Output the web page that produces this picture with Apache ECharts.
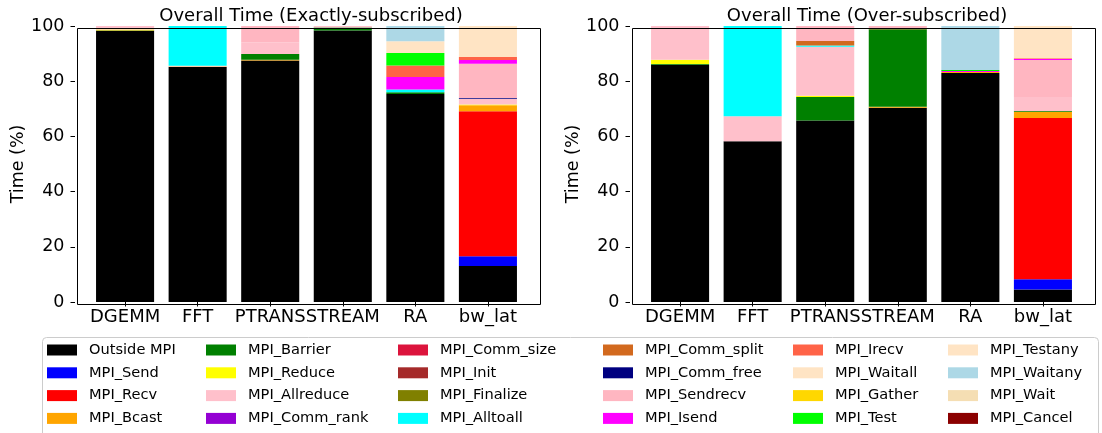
<!DOCTYPE html>
<html>
<head>
<meta charset="utf-8">
<script src="https://cdn.jsdelivr.net/npm/echarts@6/dist/echarts.min.js"></script>
<style>
  html, body { margin: 0; padding: 0; background: #fff; }
  #chart { width: 1102px; height: 433px; }
</style>
</head>
<body>
<div id="chart"></div>
<script>
const benchmarks = ['DGEMM', 'FFT', 'PTRANS', 'STREAM', 'RA', 'bw_lat']
const yTicks = [0, 20, 40, 60, 80, 100]

const mpiNames = [
  'Outside MPI', 'MPI_Send', 'MPI_Recv', 'MPI_Bcast',
  'MPI_Barrier', 'MPI_Reduce', 'MPI_Allreduce', 'MPI_Comm_rank',
  'MPI_Comm_size', 'MPI_Init', 'MPI_Finalize', 'MPI_Alltoall',
  'MPI_Comm_split', 'MPI_Comm_free', 'MPI_Sendrecv', 'MPI_Isend',
  'MPI_Irecv', 'MPI_Waitall', 'MPI_Gather', 'MPI_Test',
  'MPI_Testany', 'MPI_Waitany', 'MPI_Wait', 'MPI_Cancel'
]
const mpiColors = [
  '#000000', '#0000FF', '#FF0000', '#FFA500',
  '#008000', '#FFFF00', '#FFC0CB', '#9400D3',
  '#DC143C', '#A52A2A', '#808000', '#00FFFF',
  '#D2691E', '#000080', '#FFB6C1', '#FF00FF',
  '#FF6347', '#FFE4C4', '#FFD700', '#00FF00',
  '#FFE4C4', '#ADD8E6', '#F5DEB3', '#8B0000'
]

// time share (%) per MPI call (rows) for each benchmark (columns)
const exactTime = [
  [98.4, 85.1, 87.5, 98.4, 75.4, 13.0], // Outside MPI
  [0, 0, 0, 0, 0, 3.6],                 // MPI_Send
  [0, 0, 0, 0, 0, 52.5],                // MPI_Recv
  [0, 0.2, 0.3, 0, 0, 2.2],             // MPI_Bcast
  [0, 0, 2.1, 1.1, 0.6, 0],             // MPI_Barrier
  [0.3, 0, 0, 0, 0, 0.3],               // MPI_Reduce
  [1.3, 0.3, 4.2, 0.5, 0, 2.0],         // MPI_Allreduce
  [0, 0, 0, 0, 0, 0],                   // MPI_Comm_rank
  [0, 0, 0, 0, 0, 0],                   // MPI_Comm_size
  [0, 0, 0, 0, 0, 0],                   // MPI_Init
  [0, 0, 0, 0, 0, 0],                   // MPI_Finalize
  [0, 14.4, 0, 0, 1.0, 0],              // MPI_Alltoall
  [0, 0, 0, 0, 0, 0],                   // MPI_Comm_split
  [0, 0, 0, 0, 0, 0.3],                 // MPI_Comm_free
  [0, 0, 5.9, 0, 0, 12.4],              // MPI_Sendrecv
  [0, 0, 0, 0, 4.5, 1.4],               // MPI_Isend
  [0, 0, 0, 0, 4.2, 1.1],               // MPI_Irecv
  [0, 0, 0, 0, 0, 11.2],                // MPI_Waitall
  [0, 0, 0, 0, 0, 0],                   // MPI_Gather
  [0, 0, 0, 0, 4.5, 0],                 // MPI_Test
  [0, 0, 0, 0, 4.3, 0],                 // MPI_Testany
  [0, 0, 0, 0, 5.5, 0],                 // MPI_Waitany
  [0, 0, 0, 0, 0, 0],                   // MPI_Wait
  [0, 0, 0, 0, 0, 0]                    // MPI_Cancel
]
const overTime = [
  [86.0, 58.2, 65.8, 70.4, 83.0, 4.5],  // Outside MPI
  [0, 0, 0, 0, 0, 3.7],                 // MPI_Send
  [0, 0, 0, 0, 0, 58.5],                // MPI_Recv
  [0, 0, 0, 0.3, 0.3, 2.2],             // MPI_Bcast
  [0.2, 0, 8.5, 28.1, 0, 0.3],          // MPI_Barrier
  [1.6, 0, 0.4, 0, 0, 0],               // MPI_Reduce
  [12.2, 9.1, 17.8, 0, 0, 5.1],         // MPI_Allreduce
  [0, 0, 0, 0, 0, 0],                   // MPI_Comm_rank
  [0, 0, 0, 0, 0, 0],                   // MPI_Comm_size
  [0, 0, 0, 0, 0, 0],                   // MPI_Init
  [0, 0, 0, 0, 0, 0],                   // MPI_Finalize
  [0, 32.7, 0.4, 0, 0, 0],              // MPI_Alltoall
  [0, 0, 1.7, 0.4, 0, 0],               // MPI_Comm_split
  [0, 0, 0, 0, 0, 0],                   // MPI_Comm_free
  [0, 0, 5.4, 0.8, 0, 13.4],            // MPI_Sendrecv
  [0, 0, 0, 0, 0.4, 0.3],               // MPI_Isend
  [0, 0, 0, 0, 0, 0.3],                 // MPI_Irecv
  [0, 0, 0, 0, 0, 11.7],                // MPI_Waitall
  [0, 0, 0, 0, 0, 0],                   // MPI_Gather
  [0, 0, 0, 0, 0.4, 0],                 // MPI_Test
  [0, 0, 0, 0, 0, 0],                   // MPI_Testany
  [0, 0, 0, 0, 15.9, 0],                // MPI_Waitany
  [0, 0, 0, 0, 0, 0],                   // MPI_Wait
  [0, 0, 0, 0, 0, 0]                    // MPI_Cancel
]

const font = 'DejaVu Sans'
const chart = echarts.init(document.getElementById('chart'), null, { renderer: 'canvas' })

// axes frames (matplotlib style), category bands sit inside with side margins
const frames = [{ left: 75, top: 26, width: 463, height: 276 }, { left: 630, top: 26, width: 463, height: 276 }]
const band = 463 / 6.38
const inset = 0.19 * band

const makeX = idx => ({
  type: 'category',
  gridIndex: idx,
  data: benchmarks,
  boundaryGap: true,
  axisLine: { show: false },
  axisTick: { show: true, alignWithLabel: true, length: 4.5, lineStyle: { color: '#000' } },
  axisLabel: { color: '#000', fontFamily: font, fontSize: 18, margin: 6, interval: 0 }
})

const makeY = idx => ({
  type: 'value',
  gridIndex: idx,
  min: 0,
  max: 100,
  interval: 20,
  offset: inset,
  name: 'Time (%)',
  nameLocation: 'middle',
  nameGap: 48,
  nameTextStyle: { color: '#000', fontFamily: font, fontSize: 17.5 },
  splitLine: { show: false },
  axisLine: { show: false },
  axisTick: { show: true, length: 4.5, lineStyle: { color: '#000' } },
  axisLabel: {
    color: '#000', fontFamily: font, fontSize: 17.5, margin: 10.5,
    formatter: v => (yTicks.includes(v) ? String(v) : '')
  }
})

const makeSeries = (table, idx) => table.map((vals, i) => ({
  type: 'bar',
  name: mpiNames[i],
  xAxisIndex: idx,
  yAxisIndex: idx,
  stack: 'total' + idx,
  barWidth: '80%',
  itemStyle: { color: mpiColors[i] },
  emphasis: { disabled: true },
  data: vals
}))

const colLeft = [47, 206, 398, 603, 793, 948]
const legends = colLeft.map((left, c) => ({
  orient: 'vertical',
  left: left,
  top: 341,
  padding: 0,
  itemWidth: 30,
  itemHeight: 11,
  itemGap: 4.8,
  icon: 'rect',
  selectedMode: false,
  textStyle: { color: '#000', fontFamily: font, fontSize: 14.6, lineHeight: 18, padding: [0, 0, 0, 7] },
  data: mpiNames.slice(c * 4, c * 4 + 4)
}))

chart.setOption({
  animation: false,
  title: [
    { text: 'Overall Time (Exactly-subscribed)', left: 306, top: 2, textAlign: 'center',
      textStyle: { color: '#000', fontFamily: font, fontSize: 18, fontWeight: 'normal' } },
    { text: 'Overall Time (Over-subscribed)', left: 862, top: 2, textAlign: 'center',
      textStyle: { color: '#000', fontFamily: font, fontSize: 18, fontWeight: 'normal' } }
  ],
  grid: frames.map(f => ({ left: f.left + inset, top: f.top, width: f.width - 2 * inset, height: f.height })),
  xAxis: [makeX(0), makeX(1)],
  yAxis: [makeY(0), makeY(1)],
  legend: legends,
  graphic: frames.map(f => ({
    type: 'rect',
    left: f.left,
    top: f.top,
    z: 10,
    silent: true,
    shape: { width: f.width, height: f.height },
    style: { fill: null, stroke: '#000', lineWidth: 1 }
  })).concat([{
    type: 'rect',
    left: 42,
    top: 337,
    z: -1,
    shape: { width: 1056, height: 110, r: 4 },
    style: { fill: '#fff', stroke: '#cccccc', lineWidth: 1 }
  }]),
  series: makeSeries(exactTime, 0).concat(makeSeries(overTime, 1))
})
</script>
</body>
</html>
